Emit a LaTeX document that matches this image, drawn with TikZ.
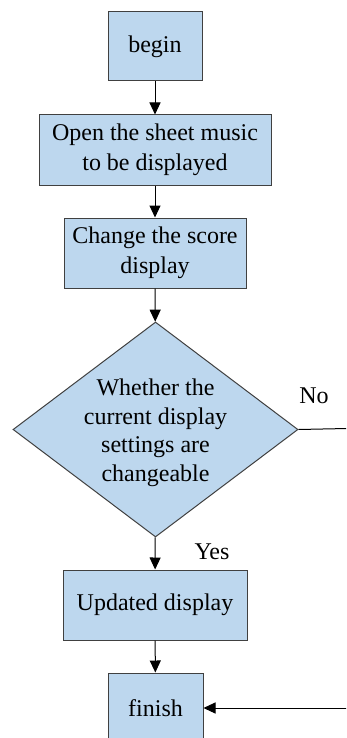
\documentclass[tikz,border=0pt]{standalone}
\usepackage{fontspec}
\setmainfont{Liberation Serif}
\usetikzlibrary{arrows.meta,shapes.geometric}
\definecolor{boxfill}{HTML}{BDD7EE}
\definecolor{boxline}{HTML}{404040}
\tikzset{
  stepbox/.style={draw=boxline, fill=boxfill, line width=1pt, inner sep=0pt, align=center,
    font=\fontsize{24}{29.5}\selectfont},
  decbox/.style={draw=boxline, fill=boxfill, line width=1pt, shape=diamond, inner sep=0pt,
    minimum width=285pt, minimum height=215pt},
  lbl/.style={font=\fontsize{24}{28.5}\selectfont, inner sep=0pt},
  flow/.style={draw=black, line width=1pt, -{Triangle[length=12pt,width=11pt]}},
  plain/.style={draw=black, line width=1pt}
}
\begin{document}
\begin{tikzpicture}[x=1pt,y=-1pt]
\useasboundingbox (0,0) rectangle (346,738);
\clip (0,0) rectangle (346,738);
\node[stepbox, minimum width=94pt, minimum height=69pt] (begin) at (155,46.5) {begin};
\node[stepbox, minimum width=232pt, minimum height=70pt] (open) at (155,150) {Open the sheet music\\to be displayed};
\node[stepbox, minimum width=182pt, minimum height=70pt] (change) at (155,253) {Change the score\\display};
\node[decbox] (dec) at (155.5,429.5) {};
\node[lbl, align=center] (dectext) at (155.5,433) {Whether the\\current display\\settings are\\changeable};
\node[stepbox, minimum width=184pt, minimum height=70pt] (update) at (155,605) {Updated display};
\node[stepbox, minimum width=95pt, minimum height=70pt] (finish) at (155.5,708) {finish};
\node[lbl] (no) at (314,396) {No};
\node[lbl] (yes) at (212,552) {Yes};
\coordinate (noend) at (347,428.5);
\coordinate (backstart) at (347,708);
\draw[flow] (begin) -- (open);
\draw[flow] (open) -- (change);
\draw[flow] (change) -- (dec);
\draw[flow] (dec) -- (update);
\draw[flow] (update) -- (finish);
\draw[plain] (dec.east) -- (noend);
\draw[flow] (backstart) -- (finish.east);
\end{tikzpicture}
\end{document}
